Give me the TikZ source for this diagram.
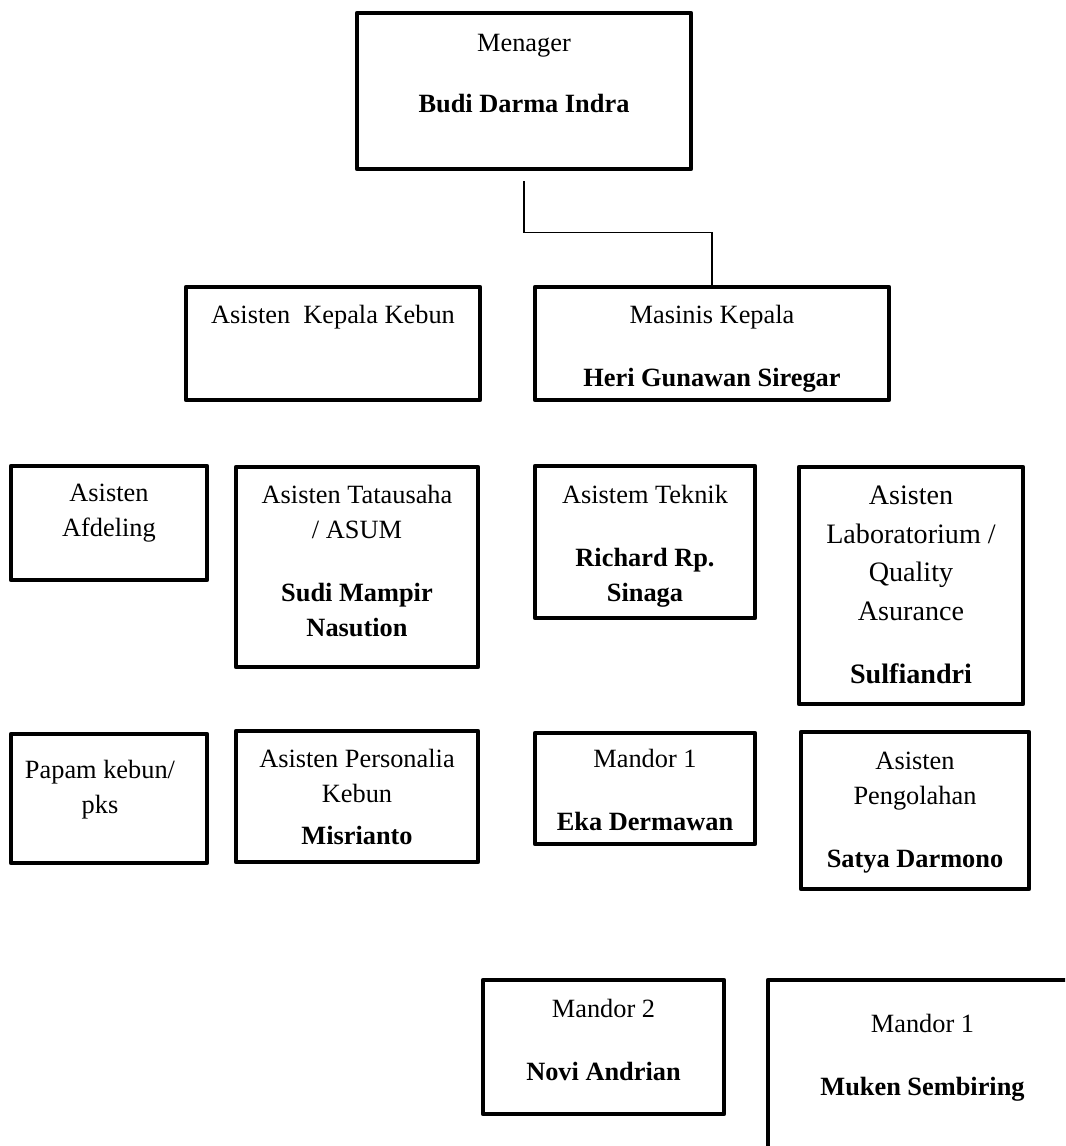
\documentclass[tikz,border=0pt]{standalone}
\usepackage{fontspec}
\setmainfont{Liberation Serif}
\usetikzlibrary{positioning, fit}

\tikzset{
  orgbox/.style={draw, line width=2.7pt, line join=round, inner sep=0pt},
  orgtext/.style={align=center, inner sep=0pt, font=\fontsize{15pt}{19.9pt}\selectfont},
  bigtext/.style={orgtext, font=\fontsize{16pt}{22pt}\selectfont},
  conn/.style={draw, line width=0.8pt},
}

\begin{document}
\begin{tikzpicture}[x=0.02cm, y=-0.02cm]
    \clip (0,0) rectangle (1065,1146);
    \fill[white] (0,0) rectangle (1065,1146);

    % Menager
    \node[orgbox, fit={(357,13) (691,169)}] (menager) {};
    \node[orgtext, below=0.46cm of menager.north] (menager-t) {Menager\\[15pt]\textbf{Budi Darma Indra}};

    % Baris kedua
    \node[orgbox, fit={(186,287) (480,400)}] (kepala) {};
    \node[orgtext, below=0.40cm of kepala.north] (kepala-t) {Asisten\ \ Kepala Kebun};

    \node[orgbox, fit={(535,287) (889,400)}] (masinis) {};
    \node[orgtext, below=0.40cm of masinis.north] (masinis-t) {Masinis Kepala\\[16pt]\textbf{Heri Gunawan Siregar}};

    % Garis
    \draw[conn, shorten <=0.2cm] (menager.south) -- ++(0,61) -| (masinis.north);

    % Baris ketiga
    \node[orgbox, fit={(11,466) (207,580)}] (afdeling) {};
    \node[orgtext, below=0.40cm of afdeling.north] (afdeling-t) {Asisten\\Afdeling};

    \node[orgbox, fit={(236,467) (478,667)}] (tatausaha) {};
    \node[orgtext, below=0.40cm of tatausaha.north] (tatausaha-t) {Asisten Tatausaha\\/ ASUM\\[16pt]\textbf{Sudi Mampir}\\\textbf{Nasution}};

    \node[orgbox, fit={(535,466) (755,618)}] (teknik) {};
    \node[orgtext, below=0.42cm of teknik.north] (teknik-t) {Asistem Teknik\\[16pt]\textbf{Richard Rp.}\\\textbf{Sinaga}};

    \node[orgbox, fit={(799,467) (1023,704)}] (lab) {};
    \node[bigtext, below=0.42cm of lab.north] (lab-t) {Asisten\\Laboratorium /\\Quality\\Asurance\\[14pt]\textbf{Sulfiandri}};

    % Baris keempat
    \node[orgbox, fit={(11,734) (207,863)}] (papam) {};
    \node[orgtext, below=0.56cm of papam.north, xshift=-0.18cm] (papam-t) {Papam kebun/\\pks};

    \node[orgbox, fit={(236,731) (478,862)}] (personalia) {};
    \node[orgtext, below=0.40cm of personalia.north] (personalia-t) {Asisten Personalia\\Kebun\\[4pt]\textbf{Misrianto}};

    \node[orgbox, fit={(535,733) (755,844)}] (eka) {};
    \node[orgtext, below=0.36cm of eka.north] (eka-t) {Mandor 1\\[16pt]\textbf{Eka Dermawan}};

    \node[orgbox, fit={(801,732) (1029,889)}] (pengolahan) {};
    \node[orgtext, below=0.44cm of pengolahan.north] (pengolahan-t) {Asisten\\Pengolahan\\[16pt]\textbf{Satya Darmono}};

    % Baris kelima
    \node[orgbox, fit={(483,980) (724,1114)}] (mandor2) {};
    \node[orgtext, below=0.42cm of mandor2.north] (mandor2-t) {Mandor 2\\[16pt]\textbf{Novi Andrian}};

    \node[orgbox, fit={(768,980) (1077,1200)}] (muken) {};
    \node[orgtext, below=0.72cm of muken.north] (muken-t) {Mandor 1\\[16pt]\textbf{Muken Sembiring}};
\end{tikzpicture}
\end{document}
